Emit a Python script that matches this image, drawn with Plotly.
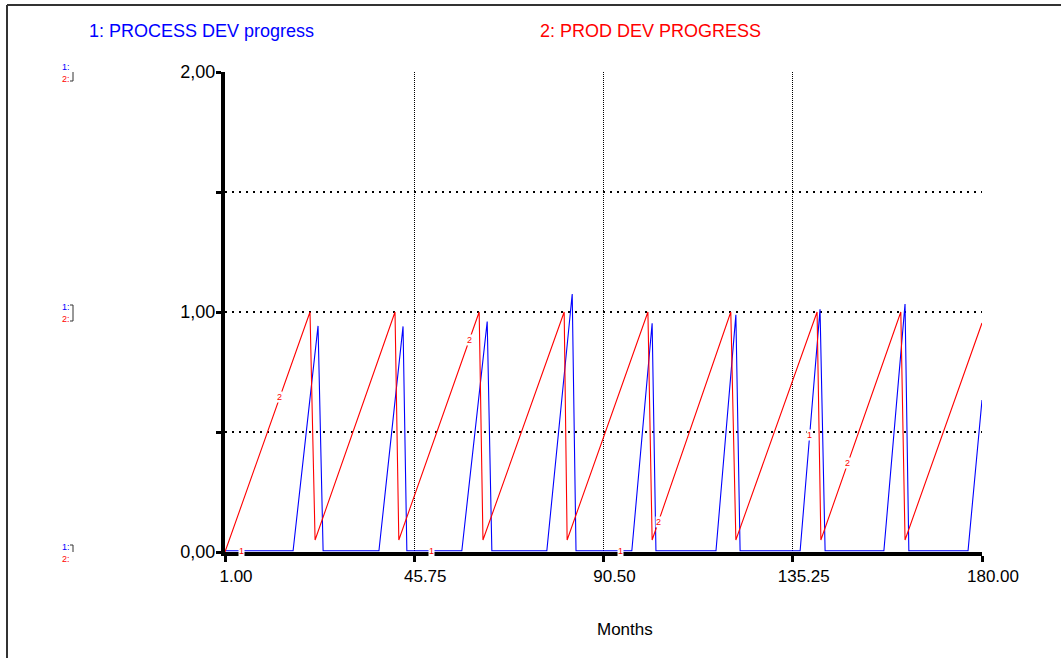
import numpy as np
import plotly.graph_objects as go

# ---------------- data ----------------
months_axis = [1.0, 180.0]
x_tick_vals = [1.0, 45.75, 90.5, 135.25, 180.0]
x_tick_text = ["1.00", "45.75", "90.50", "135.25", "180.00"]
y_tick_vals = [0.0, 0.5, 1.0, 1.5, 2.0]
y_tick_text = ["0,00", "", "1,00", "", "2,00"]

# 1: PROCESS DEV progress (blue)
process_t = [1.0, 17.1, 23.0, 24.2, 37.4, 43.1, 44.0, 57.0, 63.0, 64.1,
             77.1, 83.1, 84.0, 97.2, 102.0, 102.9, 117.1, 121.8, 122.8,
             137.0, 141.7, 142.9, 156.8, 161.8, 162.7, 176.7, 180.0]
process_v = [0.005, 0.005, 0.942, 0.005, 0.005, 0.940, 0.005, 0.005, 0.960, 0.005,
             0.005, 1.075, 0.005, 0.005, 0.953, 0.005, 0.005, 0.988, 0.005,
             0.005, 1.011, 0.005, 0.005, 1.033, 0.005, 0.005, 0.633]

# 2: PROD DEV PROGRESS (red)
prod_t = [1.0, 21.1, 22.3, 41.2, 42.1, 61.1, 62.0, 81.2, 81.9, 101.0, 102.0,
          120.6, 121.8, 141.0, 141.9, 160.8, 161.8, 180.0]
prod_v = [0.0, 1.0, 0.05, 1.0, 0.05, 1.0, 0.05, 1.0, 0.05, 1.0, 0.05,
          1.0, 0.05, 1.0, 0.05, 1.0, 0.05, 0.954]

# positions of the curve number labels
label1_t = [5.0, 49.75, 94.5, 139.25]
label2_t = [14.0, 58.75, 103.5, 148.25]

series_names = ["1: PROCESS DEV progress", "2: PROD DEV PROGRESS"]
BLUE = "#0000ff"
RED = "#ff0000"

# ---------------- layout geometry ----------------
W, H = 1061, 658
PLOT_X0, PLOT_X1, PLOT_Y0, PLOT_Y1 = 225, 982, 72, 552   # page pixels
L, T = PLOT_X0, PLOT_Y0
R, B = W - PLOT_X1, H - PLOT_Y1
PW, PH = W - L - R, H - T - B


def px(xp):
    return (xp - L) / PW


def py(yp):
    return (H - B - yp) / PH


fig = go.Figure()
fig.add_trace(go.Scatter(x=process_t, y=process_v, mode="lines",
                         line=dict(color=BLUE, width=1.1),
                         name=series_names[0], showlegend=False))
fig.add_trace(go.Scatter(x=prod_t, y=prod_v, mode="lines",
                         line=dict(color=RED, width=1.1),
                         name=series_names[1], showlegend=False))

FONT = "Liberation Sans, Arial, sans-serif"
ann = []

# curve labels
for t in label1_t:
    ann.append(dict(x=t, y=float(np.interp(t, process_t, process_v)), xref="x", yref="y",
                    text="1", showarrow=False, font=dict(size=9, color=RED, family=FONT),
                    bgcolor="white", borderpad=0))
for t in label2_t:
    ann.append(dict(x=t, y=float(np.interp(t, prod_t, prod_v)), xref="x", yref="y",
                    text="2", showarrow=False, font=dict(size=9, color=RED, family=FONT),
                    bgcolor="white", borderpad=0))

# titles
ann.append(dict(x=px(87), y=py(31), xref="paper", yref="paper", xanchor="left",
                yanchor="middle", text=series_names[0], showarrow=False,
                font=dict(size=18, color=BLUE, family=FONT)))
ann.append(dict(x=px(538), y=py(31), xref="paper", yref="paper", xanchor="left",
                yanchor="middle", text=series_names[1], showarrow=False,
                font=dict(size=18, color=RED, family=FONT)))
# x axis title
ann.append(dict(x=px(625), y=py(629), xref="paper", yref="paper", xanchor="center",
                yanchor="middle", text="Months", showarrow=False,
                font=dict(size=17, color="black", family=FONT)))

shapes = []
# scale markers on the left
marker_text = (f"<span style='color:{BLUE}'>1:</span><br>"
               f"<span style='color:{RED}'>2:</span>")
for v in [0.0, 1.0, 2.0]:
    ann.append(dict(x=px(72), y=v, xref="paper", yref="y", xanchor="right",
                    yanchor="middle", yshift=-1, text=marker_text, showarrow=False,
                    align="right", font=dict(size=9, family=FONT)))
    shapes.append(dict(type="path", xref="paper", yref="y", xsizemode="pixel",
                       ysizemode="pixel", xanchor=0, yanchor=v,
                       path="M-155,7 L-152,7 L-152,-9 L-155,-9",
                       line=dict(color="#333333", width=1)))

# outer frame (top and left edges visible)
shapes.append(dict(type="line", xref="paper", yref="paper", x0=px(7), x1=px(W + 5),
                   y0=py(5), y1=py(5), line=dict(color="#333333", width=2)))
shapes.append(dict(type="line", xref="paper", yref="paper", x0=px(7), x1=px(7),
                   y0=py(5), y1=py(H + 5), line=dict(color="#333333", width=2)))

fig.update_layout(
    width=W, height=H,
    margin=dict(l=L, r=R, t=T, b=B, pad=0),
    paper_bgcolor="white", plot_bgcolor="white",
    font=dict(family=FONT, size=17, color="black"),
    annotations=ann, shapes=shapes, showlegend=False,
)
fig.update_xaxes(range=months_axis, tickvals=x_tick_vals, ticktext=x_tick_text,
                 showline=True, linewidth=4, linecolor="black",
                 ticks="outside", ticklen=6, tickwidth=3, tickcolor="black",
                 showgrid=True, gridcolor="black", gridwidth=1.3, griddash="1px,1px",
                 zeroline=False, ticklabelshift=11,
                 tickfont=dict(size=17, family=FONT, color="black"))
fig.update_yaxes(range=[0, 2], tickvals=y_tick_vals, ticktext=y_tick_text,
                 showline=True, linewidth=4, linecolor="black",
                 ticks="outside", ticklen=5, tickwidth=3, tickcolor="black",
                 showgrid=True, gridcolor="black", gridwidth=1.5, griddash="2px,5px",
                 zeroline=False, ticklabelstandoff=-3,
                 tickfont=dict(size=18, family=FONT, color="black"))

fig.write_html("out.html",
               config={"displayModeBar": False},
               post_script="document.body.style.margin='0px';"
                           "document.body.style.overflow='hidden';")
